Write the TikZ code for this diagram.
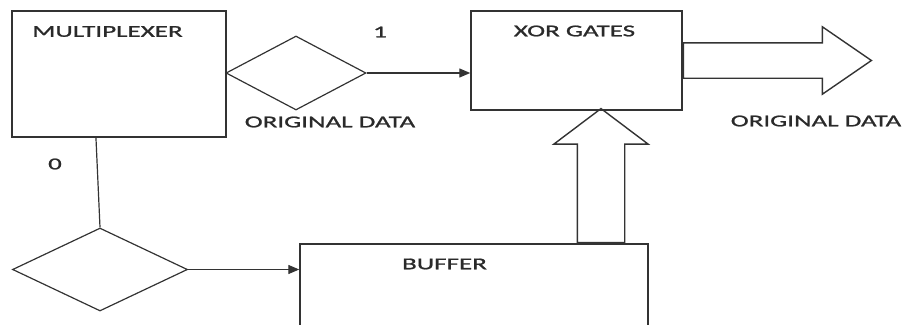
\documentclass[tikz,border=0pt]{standalone}
\usepackage{fontspec}
\setmainfont{Carlito}[FakeStretch=1.63, FakeBold=1.2]
\usepackage{xcolor}
\usepackage{tikz}
\usetikzlibrary{shapes.geometric}
\usetikzlibrary{shapes.arrows}
\usetikzlibrary{arrows.meta}
\usetikzlibrary{calc}
\definecolor{linegray}{HTML}{333333}
\definecolor{textgray}{HTML}{2A2A2A}

\begin{document}
\begin{tikzpicture}[x=1pt, y=-1pt,
        block/.style={draw=linegray, line width=1.4pt, rectangle, inner sep=0pt},
        switch/.style={draw=linegray, line width=1.2pt, diamond, inner sep=0pt},
        wide/.style={draw=linegray, line width=1.4pt, single arrow, single arrow head indent=0pt},
        txt/.style={text=textgray, font=\fontsize{16.6}{20}\selectfont, inner sep=0pt},
        wire/.style={draw=linegray, line width=1.2pt},
        >={Stealth[length=11pt, width=9pt, inset=0pt]}]
    \useasboundingbox (0,0) rectangle (913,324);

    % blocks
    \node[block, minimum width=214pt, minimum height=126pt] (mux) at (119, 74) {};
    \node[block, minimum width=211pt, minimum height=99pt] (xor) at (576.5, 60.5) {};
    \node[block, minimum width=348pt, minimum height=91pt] (buf) at (474, 289.5) {};

    % select paths
    \node[switch, minimum width=140pt, minimum height=74pt] (sel1) at (296, 73) {};
    \node[switch, minimum width=175pt, minimum height=83pt] (sel0) at (100, 269.5) {};

    \draw[wire] ($(mux.south west)!0.393!(mux.south east)$) -- (sel0.north);
    \draw[wire, ->] (sel1.east) -- (sel1.east -| xor.west);
    \draw[wire, ->] (sel0.east) -- (sel0.east -| buf.west);

    % wide data arrows
    \node[wide, anchor=tail, minimum height=188pt, inner sep=17pt,
          single arrow head extend=16pt, single arrow tip angle=69] (out) at (xor.east) {};
    \node[wide, anchor=tail, minimum height=134pt, inner sep=23pt,
          single arrow head extend=23.5pt, single arrow tip angle=106,
          shape border rotate=90] (up) at (buf.north -| 601, 0) {};

    % labels
    \node[txt] (muxtxt) at (107.5, 31.5) {MULTIPLEXER};
    \node[txt] (xortxt) at (574.5, 31) {XOR GATES};
    \node[txt] (buftxt) at (444.5, 264) {BUFFER};
    \node[txt] (one) at (380, 32) {1};
    \node[txt] (zero) at (55, 164) {0};
    \node[txt] (origin) at (330, 122) {ORIGINAL DATA};
    \node[txt] (result) at (816, 121) {ORIGINAL DATA};
\end{tikzpicture}
\end{document}
